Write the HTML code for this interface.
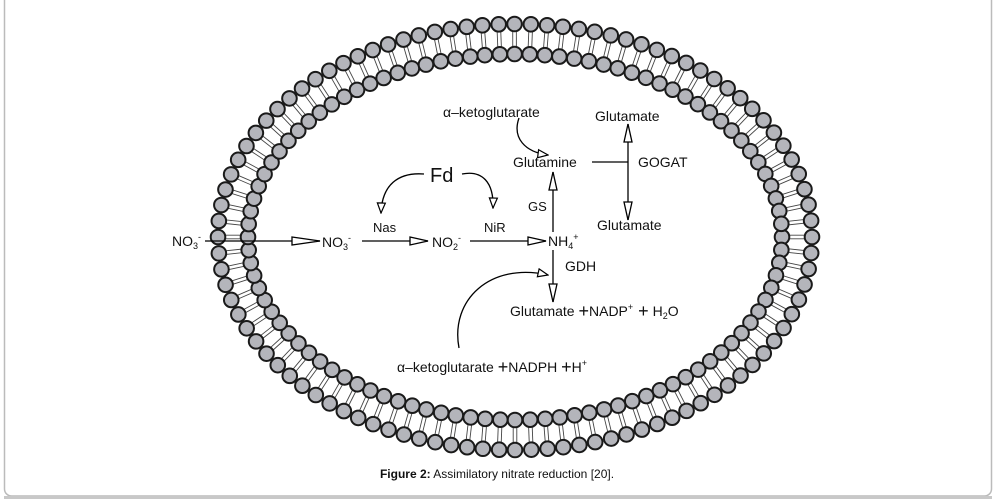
<!DOCTYPE html>
<html><head><meta charset="utf-8"><style>
html,body{margin:0;padding:0;background:#fff;width:998px;height:499px;overflow:hidden}
svg{position:absolute;left:0;top:0}
text{font-family:"Liberation Sans",sans-serif;fill:#111}
.t{font-size:14px}
</style></head><body>
<svg id="s" width="998" height="499" viewBox="0 0 998 499" xmlns="http://www.w3.org/2000/svg">
<defs>
<marker id="a" viewBox="0 0 20 10" refX="19" refY="5" markerWidth="20" markerHeight="10" markerUnits="userSpaceOnUse" orient="auto">
<path d="M1,1 L19,5 L1,9 Z" fill="#fff" stroke="#000" stroke-width="1.3"/></marker>
<marker id="b" viewBox="0 0 12 10" refX="11" refY="5" markerWidth="12" markerHeight="10" markerUnits="userSpaceOnUse" orient="auto">
<path d="M1,1 L11,5 L1,9 Z" fill="#fff" stroke="#000" stroke-width="1.2"/></marker>
<marker id="c" viewBox="0 0 30 10" refX="29" refY="5" markerWidth="30" markerHeight="10" markerUnits="userSpaceOnUse" orient="auto">
<path d="M1,1 L29,5 L1,9 Z" fill="#fff" stroke="#000" stroke-width="1.3"/></marker>
</defs>
<rect x="4.5" y="-10" width="987" height="506" rx="7" fill="none" stroke="#bbb" stroke-width="1.5"/>
<line x1="4" y1="497.5" x2="992" y2="497.5" stroke="#c8c8c8" stroke-width="3"/>
<g id="mem"></g>
<g stroke="#000" stroke-width="1.3" fill="none">
<line x1="205" y1="241" x2="320" y2="241" marker-end="url(#c)"/>
<line x1="362" y1="241" x2="428" y2="241" marker-end="url(#a)"/>
<line x1="470" y1="241" x2="546" y2="241" marker-end="url(#a)"/>
<path d="M424,174 C398,172 382,185 381,213" marker-end="url(#b)"/>
<path d="M462,174 C482,170 494,182 493,208" marker-end="url(#b)"/>
<line x1="553" y1="232" x2="553" y2="172" marker-end="url(#a)"/>
<path d="M519,118 C512,138 525,152 548,155" marker-end="url(#b)"/>
<line x1="592" y1="162" x2="628" y2="162"/>
<line x1="628" y1="162" x2="628" y2="124" marker-end="url(#a)"/>
<line x1="628" y1="162" x2="628" y2="220" marker-end="url(#a)"/>
<line x1="553" y1="250" x2="553" y2="302" marker-end="url(#a)"/>
<path d="M459,348 C450,300 490,262 548,275" marker-end="url(#b)"/>
</g>
<text x="172" y="246" class="t">NO<tspan font-size="9" dy="3">3</tspan><tspan font-size="9" dy="-9">-</tspan></text>
<text x="322" y="247" class="t">NO<tspan font-size="9" dy="3">3</tspan><tspan font-size="9" dy="-9">-</tspan></text>
<text x="432" y="247" class="t">NO<tspan font-size="9" dy="3">2</tspan><tspan font-size="9" dy="-9">-</tspan></text>
<text x="548" y="246" class="t">NH<tspan font-size="9" dy="3">4</tspan><tspan font-size="9" dy="-9">+</tspan></text>
<text x="430" y="182" font-size="20">Fd</text>
<text x="373" y="232" font-size="13">Nas</text>
<text x="484" y="232" font-size="13">NiR</text>
<text x="528" y="211" font-size="13">GS</text>
<text x="513" y="167" class="t">Glutamine</text>
<text x="443" y="117" class="t">α–ketoglutarate</text>
<text x="595" y="121" class="t">Glutamate</text>
<text x="638" y="167" class="t">GOGAT</text>
<text x="597" y="230" class="t">Glutamate</text>
<text x="565" y="271" class="t">GDH</text>
<text x="510" y="316" class="t">Glutamate <tspan font-size="18" dy="1">+</tspan><tspan dy="-1">NADP</tspan><tspan font-size="9" dy="-6">+</tspan><tspan font-size="18" dy="7"> +</tspan><tspan dy="-1"> H</tspan><tspan font-size="9" dy="3">2</tspan><tspan dy="-3">O</tspan></text>
<text x="397" y="372" class="t">α–ketoglutarate <tspan font-size="18" dy="1">+</tspan><tspan dy="-1">NADPH </tspan><tspan font-size="18" dy="1"> +</tspan><tspan dy="-1">H</tspan><tspan font-size="9" dy="-6">+</tspan></text>
<text x="497" y="478" font-size="12" text-anchor="middle"><tspan font-weight="bold">Figure 2:</tspan> Assimilatory nitrate reduction [20].</text>
</svg>
<script>
(function(){
var cx=515,cy=237,a=297,b=213,d=30,N=100,r=7.3;
var M=4000,pts=[],L=[0];
for(var i=0;i<=M;i++){var t=i/M*2*Math.PI;pts.push([cx+a*Math.cos(t),cy+b*Math.sin(t),t]);if(i>0){var dx=pts[i][0]-pts[i-1][0],dy=pts[i][1]-pts[i-1][1];L.push(L[i-1]+Math.sqrt(dx*dx+dy*dy));}}
var tot=L[M],tails="",outer="",inner="",j=0;
for(var k=0;k<N;k++){var s=k/N*tot;while(L[j+1]<s)j++;var t=pts[j][2];
var x=cx+a*Math.cos(t),y=cy+b*Math.sin(t);
var nx=Math.cos(t)/a,ny=Math.sin(t)/b,nl=Math.sqrt(nx*nx+ny*ny);nx/=nl;ny/=nl;
var ix=x-d*nx,iy=y-d*ny,px=-ny*1.8,py=nx*1.8;
tails+='<line x1="'+(x+px)+'" y1="'+(y+py)+'" x2="'+(ix+px)+'" y2="'+(iy+py)+'"/><line x1="'+(x-px)+'" y1="'+(y-py)+'" x2="'+(ix-px)+'" y2="'+(iy-py)+'"/>';
outer+='<circle cx="'+x+'" cy="'+y+'" r="'+r+'"/>';
inner+='<circle cx="'+ix+'" cy="'+iy+'" r="'+r+'"/>';}
document.getElementById('mem').innerHTML='<g stroke="#444" stroke-width="0.9">'+tails+'</g><g fill="#b4b5bb" stroke="#1a1a1a" stroke-width="2">'+inner+outer+'</g>';
})();
</script>
</body></html>
